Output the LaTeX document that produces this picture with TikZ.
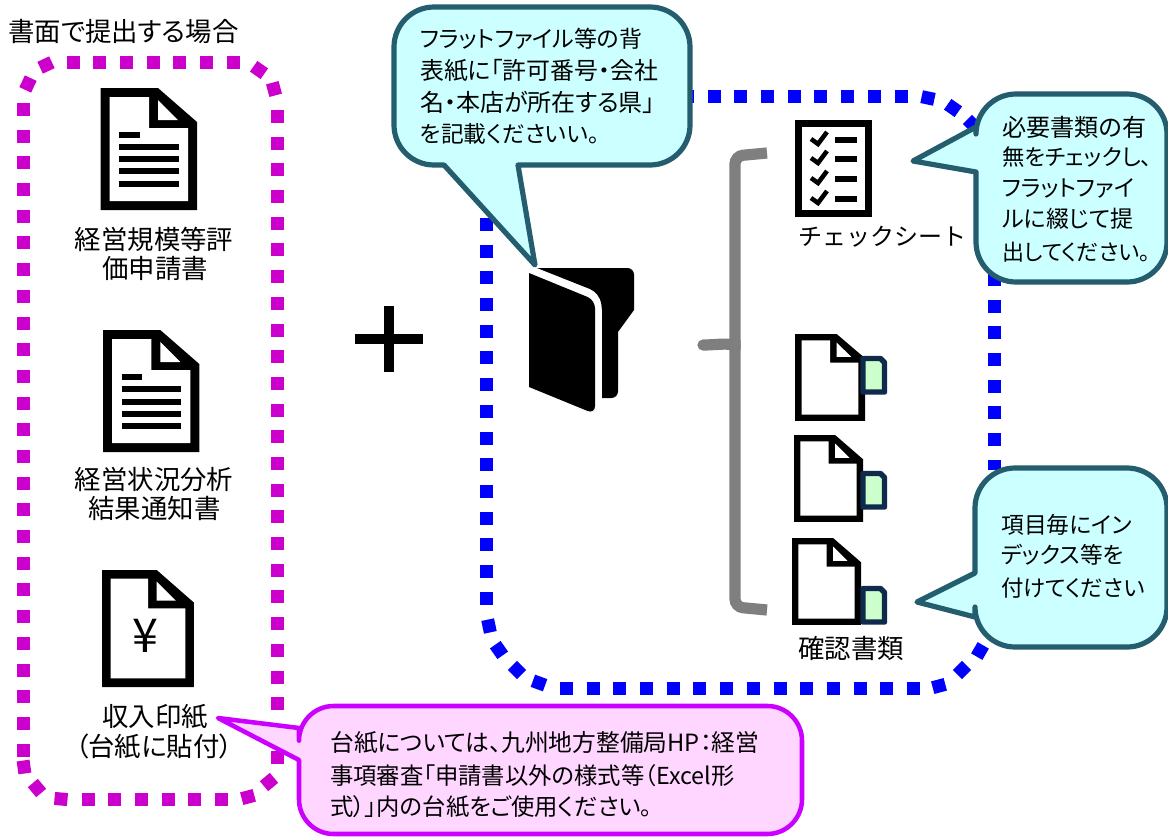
\documentclass[tikz,border=0pt]{standalone}
\usepackage{fontspec}
\setmainfont{Noto Sans CJK JP}[RawFeature=+palt]
\newfontfamily\jpfull{Noto Sans CJK JP}
\definecolor{magdot}{HTML}{CC00CC}
\definecolor{bludot}{HTML}{0000FF}
\definecolor{teal}{HTML}{235D6E}
\definecolor{aqua}{HTML}{CCFFFF}
\definecolor{purp}{HTML}{CC00FF}
\definecolor{pinkf}{HTML}{FFD6FF}
\definecolor{navy}{HTML}{0F2A4A}
\definecolor{mint}{HTML}{CCFFCC}
\definecolor{brace}{HTML}{7F7F7F}
\tikzset{
  x=0.75pt,y=-0.75pt,
  magline/.style={draw=magdot,line width=9.75pt,dash pattern=on 9.75pt off 10.27pt},
  bluline/.style={draw=bludot,line width=9.75pt,dash pattern=on 9.75pt off 10.27pt},
  tealbub/.style={draw=teal,fill=aqua,line width=3.9pt,line join=round},
  pinkbub/.style={draw=purp,fill=pinkf,line width=3.4pt,line join=round},
  lbl/.style={inner sep=0pt,font=\fontsize{19.8pt}{19.8pt}\selectfont,text=black},
  bub/.style={inner sep=0pt,anchor=west,font=\fontsize{#1pt}{#1pt}\selectfont,text=black},
  txtbar/.style={draw=black,line width=4.5pt},
}
\newcommand{\dotsq}[4]{\fill[#1,shift={(#2,#3)},rotate=#4] (-6.5,-6.5) rectangle (6.5,6.5);}
% document outline: left, top, x scale, y scale of a 96.3 x 122 sheet
\newcommand{\docicon}[4]{%
  \begin{scope}[shift={(#1,#2)},xscale=#3,yscale=#4]
  \fill[black] (0,0) -- (57.3,0) -- (96.3,34) -- (96.3,122) -- (0,122) -- cycle;
  \fill[white] (9,9) -- (48.3,9) -- (48.3,40) -- (87.3,40) -- (87.3,113) -- (9,113) -- cycle;
  \fill[white] (57.3,12) -- (77.3,32) -- (57.3,32) -- cycle;
  \end{scope}}
\newcommand{\tabicon}[2]{%
  \draw[draw=navy,fill=mint,line width=4.1pt,line join=round] (#1,#2) -- ({#1+17.5},#2) -- ({#1+21.5},{#2+4}) -- ({#1+21.5},{#2+33.5}) -- (#1,{#2+33.5}) -- cycle;
}
\begin{document}
\begin{tikzpicture}
\useasboundingbox (0,0) rectangle (1168,836);
\fill[white] (0,0) rectangle (1168,836);
% magenta frame
\draw[magline] (66.6,62) -- (240,62);
\draw[magline] (277,110) -- (277,764);
\draw[magline] (23,103) -- (23,757);
\draw[magline] (81.5,799) -- (228,799);
\dotsq{magdot}{46}{65}{25}
\dotsq{magdot}{28}{84}{65}
\dotsq{magdot}{259}{70}{-35}
\dotsq{magdot}{274}{89}{-75}
\dotsq{magdot}{269}{782}{40}
\dotsq{magdot}{248}{797}{15}
\dotsq{magdot}{24}{767}{8}
\dotsq{magdot}{37}{788}{40}
\dotsq{magdot}{61}{799}{-5}
% blue frame
\draw[bluline] (681,96) -- (908,96);
\draw[bluline] (994,273) -- (994,470);
\draw[bluline] (486,218) -- (486,605);
\draw[bluline] (560,688) -- (920,688);
\dotsq{bludot}{928}{98}{-12}
\dotsq{bludot}{953}{108}{-35}
\dotsq{bludot}{972}{124}{-45}
\dotsq{bludot}{939}{686}{15}
\dotsq{bludot}{962}{670}{45}
\dotsq{bludot}{980}{651}{60}
\dotsq{bludot}{489}{626}{12}
\dotsq{bludot}{499}{650}{35}
\dotsq{bludot}{517}{670}{45}
\dotsq{bludot}{539}{683}{-20}
% plus
\draw[draw=black,line width=7.5pt] (389,306) -- (389,372) (355,339) -- (423,339);
% header
\node[lbl,anchor=west] (head) at (8,31) {書面で提出する場合};
% doc 1
\docicon{100.7}{88}{1}{1}
\foreach \y in {147,159,171,184} \draw[txtbar] (119,\y) -- (179,\y);
\draw[txtbar] (119,135) -- (140,135);
\node[lbl] (a1) at (154,239) {経営規模等評};
\node[lbl] (a2) at (155,268) {価申請書};
% doc 2
\docicon{103}{330}{1}{1}
\foreach \y in {389,402,414,426} \draw[txtbar] (122,\y) -- (181,\y);
\draw[txtbar] (122,377) -- (142,377);
\node[lbl] (b1) at (154,479) {経営状況分析};
\node[lbl] (b2) at (154.5,508) {結果通知書};
% doc 3
\docicon{102}{570}{0.955}{0.96}
\node[inner sep=0pt,font=\fontsize{35pt}{35pt}\selectfont] (yen) at (145,636) {¥};
\node[lbl] (c1) at (155,717) {収入印紙};
\node[lbl] (c2) at (154,747) {（台紙に貼付）};
% folder
\fill[black] (537,268) [rounded corners=5pt] -- (634,268) [sharp corners] -- (634,310) -- (618,332) [rounded corners=5pt] -- (618,398) [sharp corners] -- (602,398) [sharp corners] -- (602,310) [rounded corners=8pt] -- (600,293) [sharp corners] -- cycle;
\fill[black] (529,273) [rounded corners=6pt] -- (595,300) -- (595,414) [sharp corners] -- (529,387) -- cycle;
% checklist
\draw[draw=black,fill=white,line width=5.25pt] (798,123) rectangle (868,213);
\foreach \y in {138,157,177,197} {
  \draw[draw=black,line width=3.4pt] (811,{\y+1}) -- (818,{\y+6}) -- (827,{\y-6});
  \draw[txtbar,line width=3.8pt] (835,{\y+2}) -- (857,{\y+2});
}
\node[lbl,anchor=west,font=\jpfull\fontsize{18pt}{18pt}\selectfont] (chk) at (798,237) {チェックシート};
% brace
\draw[draw=brace,line width=8.4pt,rounded corners=6pt] (767,153) -- (735,156) -- (735,350);
\draw[draw=brace,line width=8.4pt,line cap=round] (703,345) .. controls (715,345) and (725,343) .. (735,345);
\draw[draw=brace,line width=8.4pt,rounded corners=6pt] (735,340) -- (735,607) -- (767,610);
% small docs
\docicon{795}{334}{0.727}{0.713}
\docicon{794}{435}{0.717}{0.713}
\docicon{792}{538}{0.717}{0.713}
\tabicon{863}{358.5}
\tabicon{863}{473.5}
\tabicon{863}{588.5}
\node[lbl] (d1) at (851,648) {確認書類};
% bubbles
\draw[tealbub] (444,165) [rounded corners=30pt] -- (394,165) -- (394,7) -- (690,7) -- (690,165) [sharp corners] -- (518,165) -- (535,265) -- cycle;
\node[bub=17.2] (t1) at (420,39) {フラットファイル等の背};
\node[bub=17.9] (t2) at (420,71) {表紙に「許可番号・会社};
\node[bub=18] (t3) at (420,102) {名・本店が所在する県」};
\node[bub=17] (t4) at (420,134) {を記載くださいい。};
\draw[tealbub] (976,172) [rounded corners=30pt] -- (976,282) -- (1167,282) -- (1167,94) -- (976,94) [sharp corners] -- (976,127) -- (913,161) -- cycle;
\node[bub=18.1] (u1) at (1002,127) {必要書類の有};
\node[bub=16.8] (u2) at (1002,157) {無をチェックし、};
\node[bub=17.1] (u3) at (1002,188) {フラットファイ};
\node[bub=17.3] (u4) at (1002,219) {ルに綴じて提};
\node[bub=16.5] (u5) at (1002,252) {出してください。};
\draw[tealbub] (975,617) [rounded corners=30pt] -- (975,647) -- (1167,647) -- (1167,468) -- (975,468) [sharp corners] -- (975,573) -- (917,602) -- cycle;
\node[bub=17.1] (v1) at (1001,525) {項目毎にイン};
\node[bub=17] (v2) at (1001,555) {デックス等を};
\node[bub=16.8] (v3) at (1001,588) {付けてください};
\draw[pinkbub] (299,760) [rounded corners=26pt] -- (299,834) -- (802,834) -- (802,706) -- (299,706) [sharp corners] -- (299,728) -- (218,718) -- cycle;
\node[bub=17.8] (w1) at (330,743) {台紙については、九州地方整備局HP：経営};
\node[bub=17.5] (w2) at (330,776) {事項審査「申請書以外の様式等（Excel形};
\node[bub=17.5] (w3) at (330,807) {式）」内の台紙をご使用ください。};
\end{tikzpicture}
\end{document}
